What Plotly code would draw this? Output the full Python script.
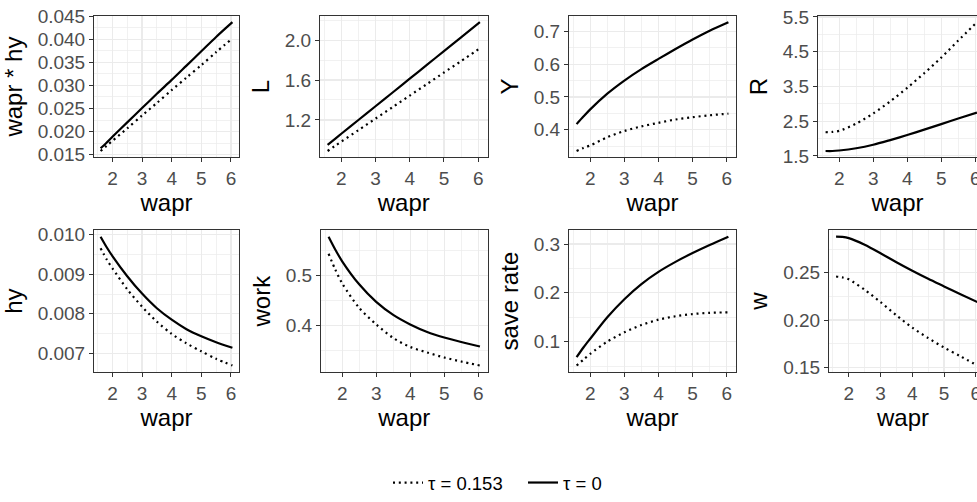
import plotly.graph_objects as go

# ---------------- data ----------------
wapr = [1.6, 1.8, 2.0, 2.5, 3.0, 3.5, 4.0, 4.5, 5.0, 5.5, 6.05]
series_names = ["τ = 0.153", "τ = 0"]

wapr_hy_tau = [0.0158, 0.0169, 0.0180, 0.0207, 0.0235, 0.0262, 0.0290, 0.0317, 0.0344, 0.0372, 0.0402]
wapr_hy_0 = [0.0164, 0.0176, 0.0189, 0.0220, 0.0251, 0.0282, 0.0312, 0.0343, 0.0374, 0.0405, 0.0437]

L_tau = [0.888, 0.935, 0.982, 1.097, 1.213, 1.328, 1.444, 1.559, 1.675, 1.790, 1.918]
L_0 = [0.950, 1.005, 1.061, 1.199, 1.337, 1.475, 1.613, 1.752, 1.890, 2.028, 2.180]

Y_tau = [0.335, 0.344, 0.352, 0.377, 0.396, 0.410, 0.421, 0.431, 0.438, 0.444, 0.449]
Y_0 = [0.417, 0.440, 0.462, 0.510, 0.550, 0.585, 0.616, 0.646, 0.675, 0.702, 0.728]

R_tau = [2.18, 2.19, 2.22, 2.43, 2.72, 3.07, 3.46, 3.88, 4.33, 4.82, 5.35]
R_0 = [1.64, 1.64, 1.655, 1.72, 1.82, 1.955, 2.10, 2.255, 2.415, 2.575, 2.745]

hy_tau = [0.00966, 0.00938, 0.00915, 0.00862, 0.00818, 0.00780, 0.00749, 0.00725, 0.00705, 0.00686, 0.00669]
hy_0 = [0.00995, 0.00969, 0.00946, 0.00895, 0.00851, 0.00814, 0.00785, 0.00761, 0.00743, 0.00728, 0.00714]

work_tau = [0.543, 0.511, 0.484, 0.435, 0.402, 0.375, 0.357, 0.346, 0.336, 0.328, 0.320]
work_0 = [0.577, 0.551, 0.528, 0.482, 0.447, 0.421, 0.402, 0.387, 0.376, 0.367, 0.358]

save_tau = [0.051, 0.063, 0.075, 0.100, 0.119, 0.134, 0.145, 0.152, 0.1565, 0.159, 0.160]
save_0 = [0.068, 0.088, 0.106, 0.150, 0.187, 0.218, 0.243, 0.2635, 0.2815, 0.298, 0.315]

w_tau = [0.246, 0.245, 0.243, 0.232, 0.219, 0.205, 0.192, 0.181, 0.171, 0.162, 0.152]
w_0 = [0.288, 0.2878, 0.2865, 0.2795, 0.2705, 0.261, 0.252, 0.2435, 0.2355, 0.2275, 0.219]

x_title = "wapr"
y_titles = ["wapr * hy", "L", "Y", "R", "hy", "work", "save rate", "w"]
x_tick_values = [2, 3, 4, 5, 6]

panel_data = [
    (wapr_hy_tau, wapr_hy_0),
    (L_tau, L_0),
    (Y_tau, Y_0),
    (R_tau, R_0),
    (hy_tau, hy_0),
    (work_tau, work_0),
    (save_tau, save_0),
    (w_tau, w_0),
]

# ---------------- layout / style ----------------
W, H = 977, 502
FULL_RIGHT = [239, 487.5, 736, 984.5]          # panel right edges (px) in the uncropped figure
LEFTS = [[94, 320, 569, 818], [94, 321, 569, 829]]
ROWS = [(16, 160), (234, 378)]
y_ticks = [  # (dtick, tick0, format)
    (0.005, 0, ".3f"), (0.4, 0, ".1f"), (0.1, 0, ".1f"), (1.0, 0.5, ".1f"),
    (0.001, 0, ".3f"), (0.1, 0, ".1f"), (0.1, 0, ".1f"), (0.05, 0, ".2f"),
]

FONT = "Liberation Sans, Arial, sans-serif"
GRID = "#EBEBEB"
AXC = "#333333"
TICKC = "#4D4D4D"
LW = 2.2
DOT = "2px,3.8px"
TICK_FS = 19
TITLE_FS = 24

xmin, xmax = min(wapr), max(wapr)
xpad = 0.05 * (xmax - xmin)
x_lo, x_hi = xmin - xpad, xmax + xpad

fig = go.Figure()
layout = dict(
    template="none",
    width=W, height=H, autosize=False,
    margin=dict(l=0, r=0, t=0, b=0, pad=0),
    paper_bgcolor="white", plot_bgcolor="white",
    font=dict(family=FONT, color="black"),
    showlegend=True,
    legend=dict(
        orientation="h", x=388 / W, xanchor="left", y=1 - 491 / H, yanchor="middle",
        font=dict(size=18.5, color="black", family=FONT), itemwidth=30,
        bgcolor="rgba(0,0,0,0)", borderwidth=0, traceorder="normal",
        entrywidth=90, entrywidthmode="pixels",
    ),
)

for i, (d_tau, d_0) in enumerate(panel_data):
    r, c = divmod(i, 4)
    left = LEFTS[r][c]
    full_right = FULL_RIGHT[c]
    right = min(full_right, W)
    top, bot = ROWS[r]
    k = "" if i == 0 else str(i + 1)

    # visible part of x scale (the last column is cropped at the window edge)
    vis_hi = x_lo + (x_hi - x_lo) * (right - left) / (full_right - left)

    vals = d_tau + d_0
    ymn, ymx = min(vals), max(vals)
    ypad = 0.05 * (ymx - ymn)
    dt, t0, fmt = y_ticks[i]

    fig.add_trace(go.Scatter(
        x=wapr, y=d_tau, mode="lines", name=series_names[0], legendgroup="tau",
        showlegend=(i == 0), line=dict(color="black", width=LW, dash=DOT, shape="spline", smoothing=0.8),
        xaxis="x" + k, yaxis="y" + k, hoverinfo="skip",
    ))
    fig.add_trace(go.Scatter(
        x=wapr, y=d_0, mode="lines", name=series_names[1], legendgroup="zero",
        showlegend=(i == 0), line=dict(color="black", width=LW, shape="spline", smoothing=0.8),
        xaxis="x" + k, yaxis="y" + k, hoverinfo="skip",
    ))

    layout["xaxis" + k] = dict(
        domain=[left / W, right / W], anchor="y" + k, range=[x_lo, vis_hi], automargin=False,
        tickmode="array", tickvals=x_tick_values, ticktext=[str(v) for v in x_tick_values],
        ticks="outside", ticklen=4, tickcolor=AXC, tickwidth=1, ticklabeloverflow="allow",
        tickfont=dict(size=TICK_FS, color=TICKC, family=FONT),
        showgrid=True, gridcolor=GRID, gridwidth=1.2, zeroline=False,
        minor=dict(dtick=0.5, tick0=0, showgrid=True, gridcolor=GRID, gridwidth=0.7, ticks=""),
        showline=True, linecolor=AXC, linewidth=1, mirror=True,
        title=dict(text=x_title, font=dict(size=TITLE_FS, color="black", family=FONT), standoff=0),
    )
    layout["yaxis" + k] = dict(
        domain=[1 - bot / H, 1 - top / H], anchor="x" + k, range=[ymn - ypad, ymx + ypad],
        automargin=False, dtick=dt, tick0=t0, tickformat=fmt, ticklabeloverflow="allow",
        ticks="outside", ticklen=4, tickcolor=AXC, tickwidth=1,
        tickfont=dict(size=TICK_FS, color=TICKC, family=FONT),
        showgrid=True, gridcolor=GRID, gridwidth=1.2, zeroline=False,
        minor=dict(dtick=dt / 2, tick0=t0, showgrid=True, gridcolor=GRID, gridwidth=0.7, ticks=""),
        showline=True, linecolor=AXC, linewidth=1, mirror=(c != 3),
        title=dict(text=y_titles[i], font=dict(size=TITLE_FS, color="black", family=FONT), standoff=8),
    )

fig.update_layout(**layout)
fig.write_html(
    "out.html",
    config={"displayModeBar": False, "staticPlot": True},
    post_script="document.body.style.margin='0';document.body.style.overflow='hidden';",
)
